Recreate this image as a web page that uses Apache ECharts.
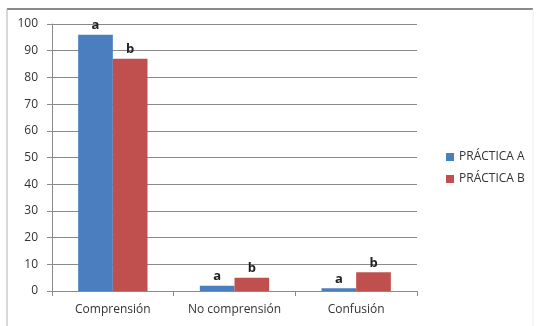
<!DOCTYPE html>
<html>
<head>
<meta charset="utf-8">
<script src="https://cdn.jsdelivr.net/npm/echarts@6/dist/echarts.min.js"></script>
<style>
  html, body { margin: 0; padding: 0; background: #fff; }
  #chart { width: 538px; height: 326px; }
</style>
</head>
<body>
<div id="chart"></div>
<script>
// Categories and values for the two practice groups
const categories = ['Comprensión', 'No comprensión', 'Confusión'];
const seriesNames = ['PRÁCTICA A', 'PRÁCTICA B'];
const valuesA = [96, 2, 1];
const valuesB = [87, 5, 7];
const labelsA = ['a', 'a', 'a'];
const labelsB = ['b', 'b', 'b'];
const yTicks = { min: 0, max: 100, interval: 10 };

const chart = echarts.init(document.getElementById('chart'), null, { renderer: 'canvas' });

const font = '"Open Sans", "Liberation Sans", Arial, sans-serif';

function barSeries(name, values, letters, color) {
  return {
    name: name,
    type: 'bar',
    data: values,
    barGap: '0%',
    barCategoryGap: '43%',
    itemStyle: { color: color },
    label: {
      show: true,
      position: 'top',
      distance: 3,
      formatter: p => letters[p.dataIndex],
      fontFamily: font,
      fontWeight: 'bold',
      fontSize: 13,
      color: '#222'
    }
  };
}

chart.setOption({
  animation: false,
  backgroundColor: '#fff',
  graphic: [
    { type: 'line', shape: { x1: 7, y1: 9, x2: 533, y2: 9 }, style: { stroke: '#8a8a8a', lineWidth: 2 } },
    { type: 'line', shape: { x1: 7, y1: 9, x2: 7, y2: 326 }, style: { stroke: '#b0b0b0', lineWidth: 1 } },
    { type: 'line', shape: { x1: 533, y1: 9, x2: 533, y2: 326 }, style: { stroke: '#eeeeee', lineWidth: 1 } }
  ],
  grid: { left: 52, top: 24, right: 121, bottom: 35 },
  legend: {
    orient: 'vertical',
    left: 441,
    top: 146,
    itemWidth: 8,
    itemHeight: 8,
    itemGap: 10,
    icon: 'rect',
    textStyle: { fontFamily: font, fontSize: 12, color: '#333' },
    data: seriesNames
  },
  xAxis: {
    type: 'category',
    data: categories,
    axisLine: { lineStyle: { color: '#8a8a8a' } },
    axisTick: { show: true, length: 5, lineStyle: { color: '#8a8a8a' } },
    axisLabel: { fontFamily: font, fontSize: 12, color: '#333', margin: 13 }
  },
  yAxis: {
    type: 'value',
    min: yTicks.min,
    max: yTicks.max,
    interval: yTicks.interval,
    axisLine: { show: true, lineStyle: { color: '#8a8a8a' } },
    axisTick: { show: true, length: 5, lineStyle: { color: '#8a8a8a' } },
    axisLabel: { fontFamily: font, fontSize: 12, color: '#333', margin: 14 },
    splitLine: { lineStyle: { color: '#8a8a8a', width: 1 } }
  },
  series: [
    barSeries(seriesNames[0], valuesA, labelsA, '#4a7ebf'),
    barSeries(seriesNames[1], valuesB, labelsB, '#c0504d')
  ]
});
</script>
</body>
</html>
